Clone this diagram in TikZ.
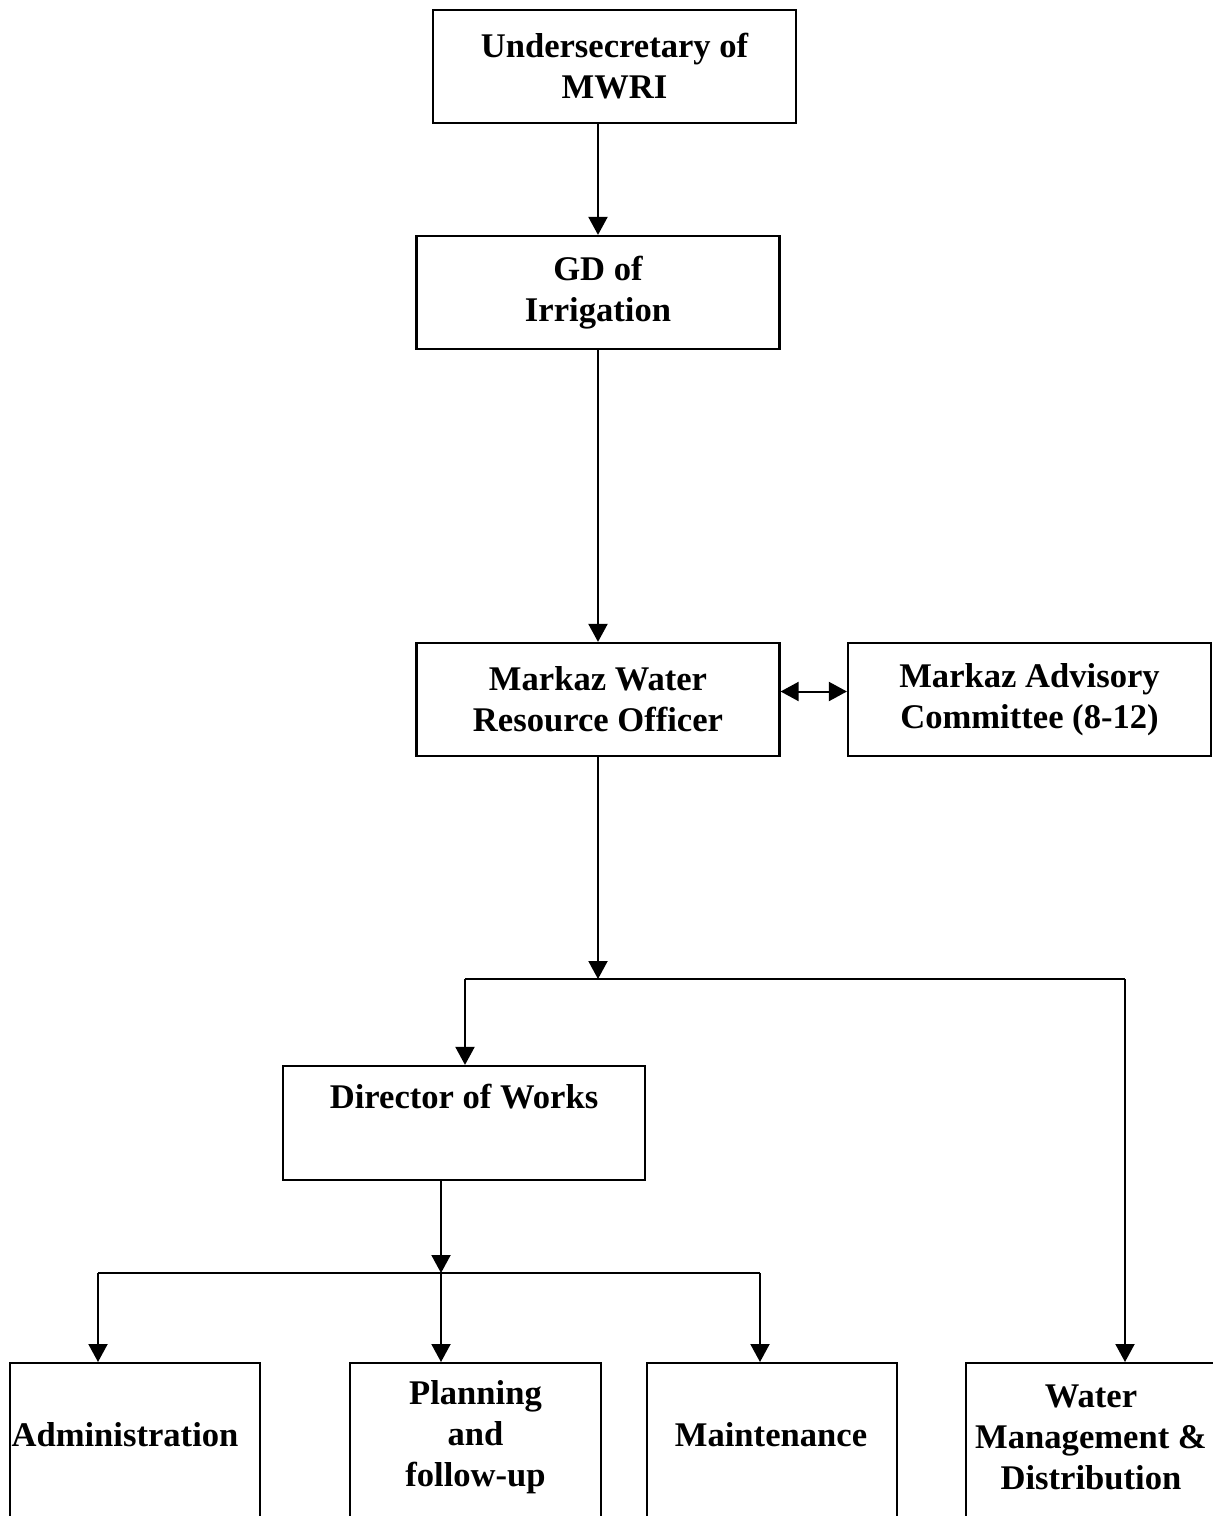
\documentclass[tikz,border=0pt]{standalone}
\usepackage{fontspec}
\setmainfont{Liberation Serif}
\usetikzlibrary{arrows.meta}
\begin{document}
\begin{tikzpicture}[x=0.5pt, y=-0.5pt,
  font=\fontsize{17.3}{20.5}\selectfont\bfseries,
  box/.style={draw, line width=1.1pt, rectangle, inner sep=0pt, align=center},
  topbox/.style={box, minimum width=181.5pt, minimum height=56.5pt},
  lowbox/.style={box, anchor=north, minimum height=150pt},
  lbl/.style={inner sep=0pt, align=center},
  link/.style={line width=1pt},
  arr/.style={link, -{Triangle[length=9pt, width=9.5pt]}},
  dbl/.style={link, {Triangle[length=9pt, width=9.5pt]}-{Triangle[length=9pt, width=9.5pt]}}]
  \clip (0,0) rectangle (1213,1516);
  \fill[white] (0,0) rectangle (1213,1516);

  % upper chain of command
  \node[topbox] (usec) at (614.5,66.5) {Undersecretary of\\MWRI};
  \node[topbox] (gd)   at (598,292.5) {GD of\\Irrigation};
  \node[topbox] (mwro) at (598,699.5) {Markaz Water\\Resource Officer};
  \node[topbox] (adv)  at (1029.5,699.5) {Markaz Advisory\\Committee (8-12)};
  \node[box, minimum width=181pt, minimum height=57pt] (dir) at (464,1123)
    {Director of Works\\\strut};

  % units at the bottom, running past the lower edge
  \node[lowbox, minimum width=125pt]   (adm)  at (135,1362) {};
  \node[lowbox, minimum width=125.5pt] (plan) at (475.5,1362) {};
  \node[lowbox, minimum width=125pt]   (mnt)  at (772,1362) {};
  \node[lowbox, minimum width=125pt]   (wmd)  at (1091,1362) {};
  \node[lbl] (admT)  at (125,1435) {Administration};
  \node[lbl] (planT) at (475.5,1437) {Planning\\and\\follow-up};
  \node[lbl] (mntT)  at (771,1435) {Maintenance};
  \node[lbl] (wmdT)  at (1091,1437) {Water\\Management \&\\Distribution};

  % junction points of the branch lines
  \coordinate (j1) at (598,979);
  \coordinate (j1l) at (465,979);
  \coordinate (j1r) at (1125,979);
  \coordinate (j2) at (441,1273);
  \coordinate (j2l) at (98,1273);
  \coordinate (j2m) at (441,1273);
  \coordinate (j2r) at (760,1273);

  % connectors
  \draw[arr] (gd.north |- usec.south) -- (gd.north);
  \draw[arr] (gd.south) -- (mwro.north);
  \draw[dbl] ([yshift=4pt]mwro.east) -- ([yshift=4pt]adv.west);
  \draw[arr] (mwro.south) -- (j1);
  \draw[link] (j1l) -- (j1r);
  \draw[arr] (j1l) -- (j1l |- dir.north);
  \draw[arr] (j1r) -- (j1r |- wmd.north);
  \draw[arr] (j2 |- dir.south) -- (j2);
  \draw[link] (j2l) -- (j2r);
  \draw[arr] (j2l) -- (j2l |- adm.north);
  \draw[arr] (j2m) -- (j2m |- plan.north);
  \draw[arr] (j2r) -- (j2r |- mnt.north);
\end{tikzpicture}
\end{document}
